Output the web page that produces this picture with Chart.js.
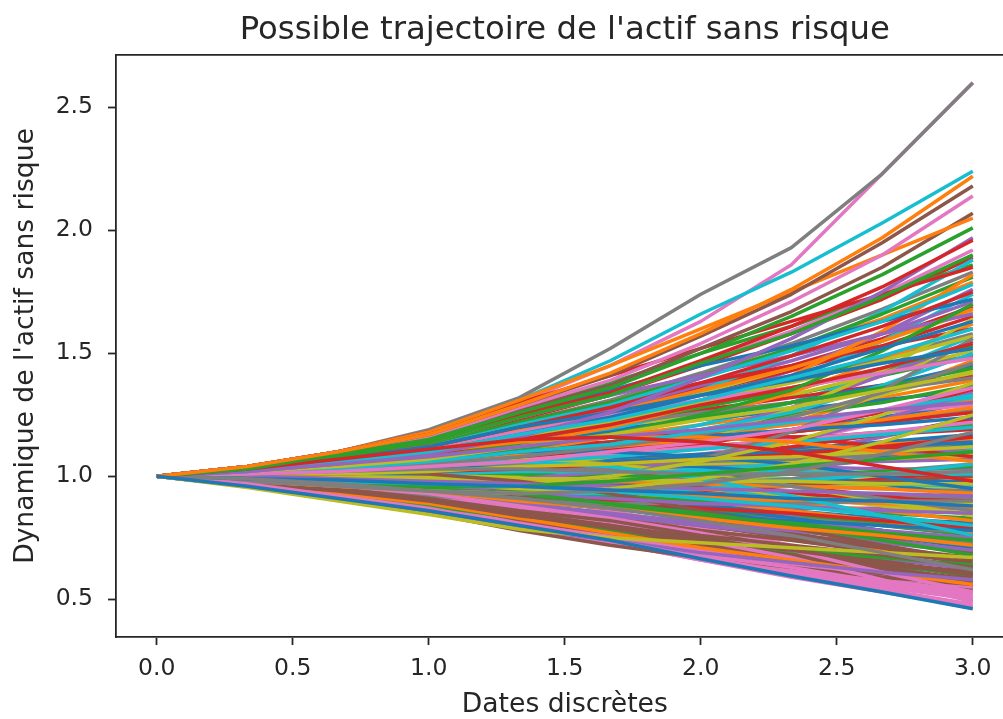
<!DOCTYPE html>
<html>
<head>
<meta charset="utf-8">
<script src="https://cdn.jsdelivr.net/npm/chart.js@4.4.1/dist/chart.umd.min.js"></script>
<style>
  html, body { margin: 0; padding: 0; background: #ffffff; overflow: hidden; width: 1003px; height: 719px; }
  #wrap { position: absolute; left: 0; top: 0; width: 1020px; height: 719px; }
  canvas { display: block; }
</style>
</head>
<body>
<div id="wrap"><canvas id="c" width="1020" height="719"></canvas></div>
<script>
// ---- data ----
const chartTitle = "Possible trajectoire de l'actif sans risque";
const xTitle = "Dates discrètes";
const yTitle = "Dynamique de l'actif sans risque";

const dates = [0, 0.333, 0.667, 1, 1.333, 1.667, 2, 2.333, 2.667, 3];
const xTicks = [0, 0.5, 1, 1.5, 2, 2.5, 3];
const yTicks = [0.5, 1, 1.5, 2, 2.5];

const trajectoires = [
  [1,0.96,0.91,0.86,0.80,0.74,0.665,0.595,0.53,0.462],
  [1,1.04,1.10,1.17,1.29,1.42,1.58,1.76,1.97,2.22],
  [1,1.03,1.09,1.15,1.26,1.36,1.50,1.65,1.82,2.01],
  [1,1.03,1.07,1.11,1.15,1.16,1.14,1.10,1.04,0.98],
  [1,1.02,1.05,1.08,1.12,1.16,1.19,1.23,1.27,1.30],
  [1,1.04,1.10,1.17,1.29,1.41,1.57,1.74,1.95,2.18],
  [1,1.04,1.10,1.16,1.28,1.39,1.54,1.71,1.90,2.14],
  [1,0.99,0.97,0.94,0.91,0.87,0.82,0.76,0.69,0.62],
  [1,0.955,0.90,0.845,0.785,0.75,0.73,0.71,0.69,0.67],
  [1,1.02,1.06,1.10,1.17,1.23,1.31,1.40,1.49,1.60],
  [1,0.99,0.985,0.97,0.96,0.945,0.93,0.91,0.90,0.88],
  [1,1.04,1.10,1.18,1.31,1.45,1.60,1.75,1.90,2.05],
  [1,1.03,1.08,1.14,1.24,1.33,1.46,1.58,1.73,1.90],
  [1,1.03,1.08,1.14,1.25,1.34,1.47,1.61,1.77,1.96],
  [1,1.02,1.05,1.09,1.16,1.26,1.40,1.56,1.75,1.97],
  [1,1.04,1.09,1.15,1.27,1.37,1.52,1.67,1.85,2.07],
  [1,0.97,0.92,0.87,0.80,0.74,0.67,0.61,0.55,0.50],
  [1,0.98,0.96,0.94,0.93,0.94,0.97,1.02,1.09,1.18],
  [1,1.02,1.04,1.07,1.12,1.17,1.23,1.28,1.35,1.42],
  [1,0.99,0.98,0.97,0.96,0.94,0.91,0.88,0.84,0.80],
  [1,1.03,1.07,1.12,1.20,1.26,1.33,1.39,1.46,1.52],
  [1,0.98,0.96,0.94,0.90,0.87,0.83,0.79,0.76,0.72],
  [1,0.99,0.97,0.96,0.96,0.98,1.01,1.04,1.07,1.10],
  [1,1.03,1.07,1.12,1.20,1.28,1.38,1.49,1.61,1.75],
  [1,0.96,0.91,0.86,0.79,0.74,0.69,0.65,0.61,0.58],
  [1,0.97,0.94,0.90,0.84,0.80,0.74,0.70,0.65,0.60],
  [1,1.01,1.02,1.04,1.06,1.10,1.14,1.19,1.27,1.36],
  [1,1.01,1.02,1.03,1.03,1.02,1.01,1.01,1.01,1.02],
  [1,0.98,0.96,0.94,0.93,0.95,0.99,1.05,1.14,1.25],
  [1,1.01,1.03,1.06,1.10,1.13,1.18,1.22,1.27,1.33],
  [1,1.02,1.06,1.10,1.17,1.24,1.33,1.41,1.52,1.63],
  [1,1.03,1.06,1.10,1.14,1.16,1.16,1.14,1.10,1.06],
  [1,0.99,0.97,0.95,0.93,0.89,0.85,0.80,0.74,0.68],
  [1,1.04,1.10,1.18,1.30,1.41,1.52,1.63,1.74,1.85],
  [1,1.00,0.99,0.98,0.97,0.96,0.95,0.94,0.93,0.92],
  [1,0.98,0.95,0.91,0.86,0.82,0.76,0.72,0.68,0.63],
  [1,0.98,0.96,0.93,0.88,0.83,0.77,0.70,0.61,0.53],
  [1,1.01,1.03,1.05,1.08,1.12,1.17,1.24,1.34,1.46],
  [1,1.01,1.01,1.02,1.04,1.05,1.07,1.08,1.10,1.12],
  [1,1.02,1.04,1.06,1.06,1.04,0.99,0.92,0.84,0.76],
  [1,1.02,1.04,1.06,1.10,1.13,1.16,1.19,1.21,1.24],
  [1,0.97,0.93,0.89,0.83,0.77,0.71,0.66,0.61,0.56],
  [1,1.02,1.04,1.07,1.11,1.17,1.25,1.35,1.51,1.70],
  [1,1.02,1.05,1.09,1.15,1.21,1.29,1.36,1.44,1.54],
  [1,0.99,0.97,0.96,0.93,0.91,0.89,0.88,0.86,0.85],
  [1,1.01,1.02,1.01,0.98,0.93,0.86,0.79,0.72,0.66],
  [1,1.03,1.07,1.12,1.18,1.25,1.31,1.36,1.42,1.48],
  [1,0.98,0.95,0.92,0.90,0.89,0.89,0.89,0.90,0.90],
  [1,0.99,0.97,0.96,0.97,1.00,1.06,1.14,1.25,1.38],
  [1,1.03,1.07,1.12,1.21,1.29,1.40,1.51,1.63,1.78],
  [1,1.02,1.05,1.08,1.10,1.10,1.08,1.05,1.00,0.95],
  [1,1.01,1.03,1.05,1.09,1.12,1.15,1.19,1.23,1.28],
  [1,0.99,0.96,0.94,0.91,0.88,0.84,0.81,0.77,0.74],
  [1,1.00,1.01,1.02,1.03,1.05,1.07,1.09,1.12,1.16],
  [1,1.04,1.09,1.15,1.24,1.33,1.41,1.49,1.58,1.66],
  [1,0.97,0.94,0.90,0.85,0.80,0.75,0.70,0.65,0.61],
  [1,0.98,0.95,0.92,0.87,0.81,0.74,0.67,0.58,0.49],
  [1,0.98,0.96,0.95,0.96,1.00,1.07,1.18,1.35,1.56],
  [1,1.00,1.00,0.99,0.99,0.99,0.98,0.98,0.97,0.97],
  [1,1.01,1.02,1.04,1.06,1.08,1.11,1.14,1.17,1.20],
  [1,1.04,1.10,1.16,1.26,1.35,1.45,1.53,1.63,1.72],
  [1,0.99,0.99,0.98,0.96,0.94,0.92,0.89,0.86,0.82],
  [1,1.02,1.04,1.08,1.13,1.17,1.24,1.30,1.36,1.44],
  [1,1.02,1.05,1.09,1.13,1.16,1.17,1.16,1.12,1.08],
  [1,0.98,0.96,0.93,0.89,0.85,0.81,0.78,0.74,0.70],
  [1,0.97,0.94,0.90,0.84,0.79,0.73,0.68,0.63,0.58],
  [1,1.03,1.08,1.14,1.24,1.33,1.46,1.59,1.74,1.92],
  [1,1.01,1.03,1.05,1.05,1.03,1.00,0.96,0.91,0.86],
  [1,1.02,1.06,1.09,1.16,1.22,1.30,1.38,1.47,1.57],
  [1,1.00,1.01,1.01,1.02,1.02,1.02,1.02,1.01,1.01],
  [1,0.98,0.96,0.93,0.90,0.87,0.84,0.82,0.80,0.78],
  [1,1.02,1.04,1.07,1.13,1.20,1.29,1.41,1.59,1.82],
  [1,0.97,0.93,0.88,0.83,0.78,0.74,0.70,0.67,0.64],
  [1,1.01,1.03,1.05,1.08,1.11,1.14,1.18,1.22,1.26],
  [1,0.99,0.98,0.97,0.97,0.98,1.00,1.03,1.07,1.12],
  [1,0.99,0.97,0.96,0.93,0.89,0.85,0.80,0.75,0.69],
  [1,0.97,0.92,0.88,0.81,0.75,0.68,0.63,0.57,0.52],
  [1,1.02,1.06,1.10,1.15,1.21,1.26,1.30,1.35,1.40],
  [1,1.02,1.04,1.06,1.07,1.05,1.01,0.96,0.90,0.84],
  [1,1.01,1.03,1.05,1.08,1.13,1.19,1.26,1.37,1.50],
  [1,1.01,1.02,1.03,1.04,1.06,1.08,1.10,1.12,1.14],
  [1,1.00,1.00,0.99,0.99,0.98,0.97,0.96,0.95,0.93],
  [1,1.03,1.07,1.13,1.22,1.30,1.41,1.52,1.66,1.81],
  [1,0.99,0.97,0.95,0.93,0.90,0.87,0.85,0.82,0.79],
  [1,0.99,0.98,0.98,0.99,1.02,1.07,1.14,1.23,1.34],
  [1,0.96,0.91,0.85,0.78,0.72,0.67,0.63,0.59,0.56],
  [1,1.01,1.02,1.04,1.07,1.09,1.12,1.15,1.18,1.22],
  [1,0.98,0.96,0.94,0.90,0.87,0.83,0.80,0.76,0.73],
  [1,1.00,0.99,1.00,1.03,1.08,1.16,1.27,1.43,1.64],
  [1,0.98,0.96,0.94,0.93,0.93,0.95,0.98,1.01,1.05],
  [1,0.99,0.98,0.96,0.93,0.90,0.86,0.81,0.76,0.71],
  [1,1.03,1.06,1.11,1.19,1.26,1.35,1.44,1.55,1.68],
  [1,1.01,1.02,1.02,1.01,1.00,1.00,1.01,1.02,1.04],
  [1,1.03,1.08,1.14,1.22,1.30,1.38,1.45,1.53,1.60],
  [1,0.98,0.94,0.91,0.85,0.81,0.76,0.71,0.67,0.62],
  [1,0.99,0.98,0.97,0.96,0.96,0.96,0.97,0.98,1.00],
  [1,0.96,0.92,0.86,0.79,0.73,0.66,0.60,0.54,0.48],
  [1,1.00,1.01,1.02,1.03,1.04,1.06,1.07,1.09,1.10],
  [1,0.99,0.98,0.97,0.95,0.94,0.93,0.91,0.90,0.89],
  [1,1.02,1.05,1.09,1.15,1.24,1.35,1.49,1.67,1.88],
  [1,1.02,1.05,1.08,1.13,1.18,1.24,1.30,1.37,1.45],
  [1,1.01,1.03,1.06,1.10,1.16,1.24,1.34,1.47,1.62],
  [1,0.99,0.98,0.96,0.94,0.92,0.90,0.88,0.85,0.83],
  [1,1.02,1.05,1.08,1.12,1.14,1.15,1.16,1.17,1.19],
  [1,0.99,0.97,0.94,0.91,0.88,0.85,0.82,0.78,0.75],
  [1,0.97,0.93,0.88,0.82,0.77,0.72,0.68,0.64,0.61],
  [1,0.97,0.92,0.87,0.81,0.75,0.68,0.62,0.56,0.51],
  [1,1.01,1.03,1.05,1.08,1.11,1.14,1.18,1.22,1.27],
  [1,1.02,1.03,1.04,1.04,1.04,1.05,1.06,1.07,1.09],
  [1,1.00,1.00,0.99,0.99,0.99,0.98,0.98,0.97,0.96],
  [1,0.99,0.97,0.95,0.95,0.96,0.99,1.03,1.08,1.13],
  [1,0.99,0.98,0.97,0.95,0.94,0.92,0.90,0.89,0.87],
  [1,1.02,1.05,1.09,1.15,1.21,1.28,1.35,1.44,1.53],
  [1,1.01,1.02,1.04,1.06,1.09,1.13,1.19,1.26,1.35],
  [1,1.03,1.07,1.11,1.19,1.27,1.37,1.47,1.58,1.71],
  [1,0.99,0.97,0.95,0.92,0.88,0.83,0.77,0.71,0.64],
  [1,0.96,0.91,0.86,0.79,0.73,0.68,0.63,0.59,0.55],
  [1,0.99,0.98,0.97,0.96,0.96,0.97,0.99,1.02,1.05],
  [1,1.01,1.02,1.03,1.06,1.10,1.16,1.24,1.33,1.43],
  [1,1.01,1.03,1.04,1.04,1.01,0.96,0.90,0.84,0.78],
  [1,1.01,1.02,1.04,1.05,1.05,1.04,1.01,0.97,0.92],
  [1,1.01,1.02,1.03,1.05,1.06,1.08,1.10,1.13,1.15],
  [1,1.04,1.09,1.16,1.27,1.38,1.50,1.61,1.74,1.86],
  [1,1.00,1.00,1.01,1.02,1.05,1.08,1.12,1.17,1.23],
  [1,0.98,0.96,0.92,0.88,0.84,0.80,0.76,0.73,0.69],
  [1,0.97,0.93,0.89,0.83,0.78,0.72,0.67,0.62,0.57],
  [1,1.02,1.05,1.08,1.12,1.16,1.19,1.22,1.26,1.29],
  [1,1.00,0.99,0.99,0.98,0.97,0.96,0.96,0.95,0.94],
  [1,1.03,1.06,1.11,1.18,1.25,1.34,1.44,1.55,1.67],
  [1,0.99,0.98,0.98,0.99,1.01,1.03,1.05,1.08,1.11],
  [1,1.00,1.00,0.99,0.97,0.93,0.88,0.83,0.78,0.73],
  [1,1.03,1.07,1.13,1.21,1.30,1.41,1.52,1.64,1.79],
  [1,0.97,0.94,0.90,0.85,0.80,0.74,0.69,0.64,0.60],
  [1,1.02,1.06,1.10,1.16,1.22,1.27,1.32,1.37,1.41],
  [1,1.02,1.04,1.06,1.07,1.06,1.05,1.04,1.03,1.03],
  [1,0.98,0.95,0.92,0.87,0.83,0.78,0.74,0.69,0.65],
  [1,0.97,0.93,0.88,0.82,0.76,0.70,0.64,0.58,0.53],
  [1,1.02,1.06,1.10,1.16,1.23,1.31,1.39,1.48,1.58],
  [1,1.01,1.01,1.01,1.00,0.98,0.95,0.92,0.88,0.85],
  [1,1.01,1.03,1.06,1.09,1.13,1.17,1.22,1.27,1.32],
  [1,1.01,1.02,1.03,1.05,1.07,1.09,1.11,1.14,1.17],
  [1,0.99,0.98,0.97,0.95,0.93,0.90,0.86,0.82,0.77],
  [1,1.02,1.04,1.06,1.10,1.14,1.19,1.25,1.30,1.37],
  [1,0.99,0.97,0.95,0.94,0.93,0.94,0.96,0.99,1.02],
  [1,1.00,1.01,1.02,1.05,1.10,1.18,1.28,1.41,1.55],
  [1,0.97,0.93,0.88,0.83,0.78,0.73,0.69,0.66,0.63],
  [1,0.98,0.95,0.92,0.87,0.81,0.74,0.66,0.58,0.50],
  [1,1.01,1.02,1.03,1.04,1.06,1.07,1.09,1.11,1.13],
  [1,1.00,0.99,0.99,0.98,0.98,0.97,0.96,0.96,0.95],
  [1,1.02,1.04,1.07,1.12,1.19,1.28,1.39,1.55,1.74],
  [1,0.99,0.97,0.96,0.93,0.91,0.88,0.86,0.83,0.81],
  [1,1.00,1.00,1.01,1.04,1.08,1.14,1.22,1.33,1.47],
  [1,1.01,1.02,1.04,1.06,1.09,1.12,1.15,1.18,1.21],
  [1,0.99,0.99,0.98,0.97,0.96,0.94,0.93,0.91,0.90],
  [1,1.00,1.01,1.01,1.02,1.03,1.04,1.05,1.06,1.07],
  [1,0.98,0.95,0.92,0.88,0.84,0.80,0.75,0.71,0.67],
  [1,0.99,0.98,0.96,0.92,0.86,0.79,0.72,0.64,0.57],
  [1,1.03,1.07,1.13,1.22,1.31,1.42,1.54,1.68,1.83],
  [1,1.02,1.04,1.06,1.09,1.12,1.15,1.18,1.22,1.27],
  [1,0.98,0.96,0.93,0.89,0.85,0.81,0.78,0.74,0.70],
  [1,1.02,1.05,1.09,1.14,1.19,1.23,1.27,1.31,1.35],
  [1,1.01,1.02,1.03,1.04,1.04,1.04,1.03,1.01,0.99],
  [1,0.99,0.98,0.96,0.94,0.91,0.87,0.83,0.78,0.72],
  [1,1.03,1.06,1.11,1.18,1.25,1.34,1.43,1.53,1.65],
  [1,0.98,0.95,0.93,0.91,0.89,0.88,0.87,0.87,0.87],
  [1,0.97,0.94,0.90,0.85,0.80,0.75,0.70,0.65,0.60],
  [1,1.01,1.02,1.03,1.05,1.07,1.09,1.11,1.13,1.16],
  [1,0.99,0.97,0.95,0.92,0.89,0.86,0.83,0.80,0.77],
  [1,1.02,1.05,1.08,1.14,1.19,1.26,1.33,1.42,1.51],
  [1,1.00,1.01,1.02,1.03,1.04,1.05,1.06,1.08,1.09],
  [1,1.01,1.01,1.00,0.99,0.98,0.97,0.97,0.97,0.97],
  [1,1.01,1.03,1.06,1.09,1.13,1.17,1.21,1.26,1.31],
  [1,0.98,0.96,0.94,0.91,0.88,0.85,0.83,0.81,0.79],
  [1,1.03,1.08,1.14,1.23,1.33,1.45,1.58,1.72,1.89],
  [1,0.99,0.98,0.97,0.98,1.00,1.04,1.09,1.16,1.24],
  [1,0.97,0.93,0.88,0.82,0.77,0.70,0.65,0.60,0.55],
  [1,0.96,0.92,0.86,0.79,0.73,0.66,0.59,0.53,0.47],
  [1,1.03,1.07,1.11,1.18,1.24,1.30,1.36,1.43,1.49],
  [1,0.99,0.99,0.98,0.98,0.98,0.99,0.99,1.00,1.01],
  [1,1.01,1.03,1.05,1.09,1.14,1.21,1.30,1.42,1.57],
  [1,1.01,1.03,1.06,1.09,1.12,1.15,1.19,1.24,1.30],
  [1,0.98,0.95,0.92,0.87,0.83,0.78,0.74,0.70,0.66],
  [1,1.02,1.05,1.08,1.14,1.19,1.26,1.33,1.41,1.49],
  [1,1.01,1.03,1.04,1.04,1.02,0.99,0.96,0.92,0.88],
  [1,1.01,1.03,1.07,1.13,1.21,1.31,1.43,1.58,1.76],
  [1,0.97,0.93,0.88,0.82,0.76,0.69,0.64,0.59,0.54],
  [1,0.99,0.99,1.00,1.02,1.05,1.09,1.14,1.22,1.31],
  [1,1.04,1.10,1.19,1.32,1.52,1.74,1.93,2.23,2.60],
  [1,1.02,1.04,1.07,1.09,1.11,1.12,1.14,1.17,1.20],
  [1,1.04,1.10,1.18,1.31,1.47,1.66,1.83,2.03,2.24],
  [1,1.00,1.00,1.00,0.99,0.99,0.99,0.99,0.98,0.98],
  [1,1.02,1.04,1.07,1.11,1.16,1.21,1.26,1.32,1.39],
  [1,0.99,0.99,0.98,0.96,0.93,0.89,0.85,0.80,0.76],
  [1,1.03,1.07,1.12,1.19,1.27,1.36,1.45,1.56,1.69],
  [1,0.98,0.96,0.94,0.91,0.88,0.86,0.84,0.82,0.81],
  [1,0.99,0.97,0.93,0.89,0.84,0.78,0.71,0.65,0.59],
  [1,1.04,1.10,1.18,1.30,1.45,1.63,1.86,2.23,2.60],
  [1,0.99,0.98,0.96,0.95,0.94,0.93,0.92,0.92,0.91],
  [1,1.01,1.02,1.03,1.04,1.05,1.06,1.07,1.07,1.08],
  [1,1.01,1.02,1.03,1.03,1.02,1.01,0.99,0.96,0.94]
];

// matplotlib default colour cycle (style)
const palette = ['#1f77b4','#ff7f0e','#2ca02c','#d62728','#9467bd','#8c564b','#e377c2','#7f7f7f','#bcbd22','#17becf'];

// ---- chart ----
const FONT = "'DejaVu Sans', 'Liberation Sans', sans-serif";
const TEXT = '#262626';
const AXIS = '#262626';

const datasets = trajectoires.map((vals, i) => ({
  data: dates.map((t, k) => ({ x: t, y: vals[k] })),
  borderColor: palette[i % palette.length],
  backgroundColor: palette[i % palette.length],
  borderWidth: 3.5,
  pointRadius: 0,
  tension: 0,
  fill: false,
  borderCapStyle: 'butt',
  borderJoinStyle: 'round'
}));

const frame = {
  id: 'frame',
  afterDatasetsDraw(chart) {
    const { ctx, chartArea: a } = chart;
    ctx.save();
    ctx.strokeStyle = AXIS;
    ctx.lineWidth = 1.8;
    ctx.beginPath();
    ctx.moveTo(a.left, a.top);
    ctx.lineTo(a.right, a.top);
    ctx.lineTo(a.right, a.bottom);
    ctx.stroke();
    ctx.restore();
  }
};

new Chart(document.getElementById('c'), {
  type: 'line',
  data: { datasets },
  plugins: [frame],
  options: {
    responsive: false,
    animation: false,
    devicePixelRatio: 1,
    parsing: false,
    normalized: true,
    layout: { padding: { left: 0, right: 6.4, top: 0, bottom: 0 } },
    plugins: {
      legend: { display: false },
      tooltip: { enabled: false },
      title: {
        display: true,
        fullSize: false,
        text: chartTitle,
        color: TEXT,
        font: { family: FONT, size: 32.3, weight: 'normal', lineHeight: 1.2 },
        padding: { top: 11, bottom: 5.2 }
      }
    },
    scales: {
      x: {
        type: 'linear',
        min: -0.15,
        max: 3.15,
        afterFit(scale) { scale.height = 82; },
        afterBuildTicks(scale) { scale.ticks = xTicks.map(v => ({ value: v })); },
        ticks: {
          color: TEXT,
          font: { family: FONT, size: 23.5 },
          padding: 10,
          maxRotation: 0,
          autoSkip: false,
          callback: v => Number(v).toFixed(1)
        },
        grid: { drawOnChartArea: false, drawTicks: true, tickLength: 8, tickWidth: 1.8, tickColor: AXIS },
        border: { display: true, color: AXIS, width: 1.8 },
        title: {
          display: true,
          text: xTitle,
          color: TEXT,
          font: { family: FONT, size: 26.6, lineHeight: 1.2 },
          padding: { top: 0, bottom: -2 }
        }
      },
      y: {
        type: 'linear',
        min: 0.347,
        max: 2.713,
        afterFit(scale) { scale.width = 116; },
        afterBuildTicks(scale) { scale.ticks = yTicks.map(v => ({ value: v })); },
        ticks: {
          color: TEXT,
          font: { family: FONT, size: 23.5 },
          padding: 15,
          autoSkip: false,
          callback: v => Number(v).toFixed(1)
        },
        grid: { drawOnChartArea: false, drawTicks: true, tickLength: 8, tickWidth: 1.8, tickColor: AXIS },
        border: { display: true, color: AXIS, width: 1.8 },
        title: {
          display: true,
          text: yTitle,
          color: TEXT,
          font: { family: FONT, size: 26.6, lineHeight: 1.2 },
          padding: { top: 10, bottom: 0 }
        }
      }
    }
  }
});
</script>
</body>
</html>
